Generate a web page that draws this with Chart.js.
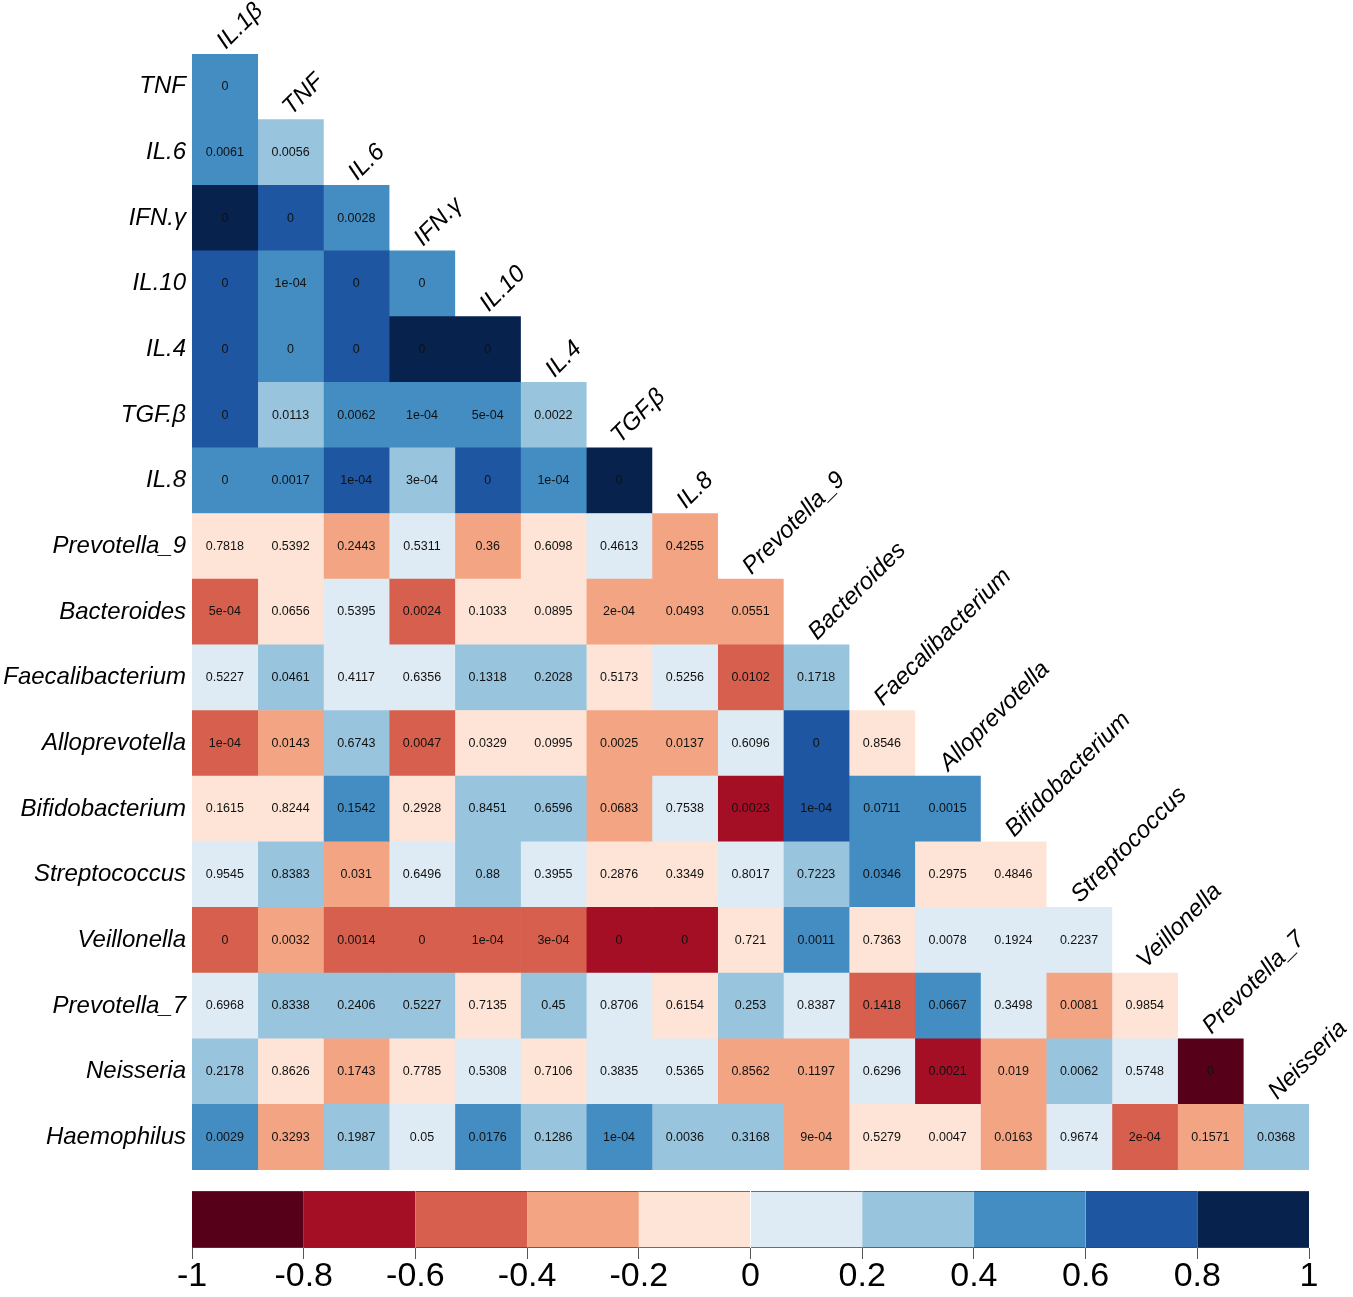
<!DOCTYPE html>
<html>
<head>
<meta charset="utf-8">
<script src="https://cdn.jsdelivr.net/npm/chart.js@4.4.1/dist/chart.umd.min.js"></script>
<style>
  html, body { margin: 0; padding: 0; background: #fff; }
  #wrap { position: relative; width: 1353px; height: 1297px; }
  #heat { position: absolute; left: 0; top: 0; }
  #bar { position: absolute; left: 0; top: 1180px; }
</style>
</head>
<body>
<div id="wrap">
  <canvas id="heat" width="1353" height="1180"></canvas>
  <canvas id="bar" width="1353" height="117"></canvas>
</div>
<script>
// row names (top to bottom) and column names (left to right)
const rowLabels = ["TNF", "IL.6", "IFN.γ", "IL.10", "IL.4", "TGF.β", "IL.8",
  "Prevotella_9", "Bacteroides", "Faecalibacterium", "Alloprevotella",
  "Bifidobacterium", "Streptococcus", "Veillonella", "Prevotella_7",
  "Neisseria", "Haemophilus"];
const colLabels = ["IL.1β", "TNF", "IL.6", "IFN.γ", "IL.10", "IL.4", "TGF.β", "IL.8",
  "Prevotella_9", "Bacteroides", "Faecalibacterium", "Alloprevotella",
  "Bifidobacterium", "Streptococcus", "Veillonella", "Prevotella_7", "Neisseria"];

// estimated correlation per cell (lower triangle, row by row)
const corrRows = [
  [0.5],
  [0.5, 0.3],
  [0.9, 0.7, 0.5],
  [0.7, 0.5, 0.7, 0.5],
  [0.7, 0.5, 0.7, 0.9, 0.9],
  [0.7, 0.3, 0.5, 0.5, 0.5, 0.3],
  [0.5, 0.5, 0.7, 0.3, 0.7, 0.5, 0.9],
  [-0.1, -0.1, -0.3, 0.1, -0.3, -0.1, 0.1, -0.3],
  [-0.5, -0.1, 0.1, -0.5, -0.1, -0.1, -0.3, -0.3, -0.3],
  [0.1, 0.3, 0.1, 0.1, 0.3, 0.3, -0.1, 0.1, -0.5, 0.3],
  [-0.5, -0.3, 0.3, -0.5, -0.1, -0.1, -0.3, -0.3, 0.1, 0.7, -0.1],
  [-0.1, -0.1, 0.5, -0.1, 0.3, 0.3, -0.3, 0.1, -0.7, 0.7, 0.5, 0.5],
  [0.1, 0.3, -0.3, 0.1, 0.3, 0.1, -0.1, -0.1, 0.1, 0.3, 0.5, -0.1, -0.1],
  [-0.5, -0.3, -0.5, -0.5, -0.5, -0.5, -0.7, -0.7, -0.1, 0.5, -0.1, 0.1, 0.1, 0.1],
  [0.1, 0.3, 0.3, 0.3, -0.1, 0.3, 0.1, -0.1, 0.3, 0.1, -0.5, 0.5, 0.1, -0.3, -0.1],
  [0.3, -0.1, -0.3, -0.1, 0.1, -0.1, 0.1, 0.1, -0.3, -0.3, 0.1, -0.7, -0.3, 0.3, 0.1, -0.9],
  [0.5, -0.3, 0.3, 0.1, 0.5, 0.3, 0.5, 0.3, 0.3, -0.3, -0.1, -0.1, -0.3, 0.1, -0.5, -0.3, 0.3]
];

// p-values printed in each cell
const pRows = [
  ["0"],
  ["0.0061", "0.0056"],
  ["0", "0", "0.0028"],
  ["0", "1e-04", "0", "0"],
  ["0", "0", "0", "0", "0"],
  ["0", "0.0113", "0.0062", "1e-04", "5e-04", "0.0022"],
  ["0", "0.0017", "1e-04", "3e-04", "0", "1e-04", "0"],
  ["0.7818", "0.5392", "0.2443", "0.5311", "0.36", "0.6098", "0.4613", "0.4255"],
  ["5e-04", "0.0656", "0.5395", "0.0024", "0.1033", "0.0895", "2e-04", "0.0493", "0.0551"],
  ["0.5227", "0.0461", "0.4117", "0.6356", "0.1318", "0.2028", "0.5173", "0.5256", "0.0102", "0.1718"],
  ["1e-04", "0.0143", "0.6743", "0.0047", "0.0329", "0.0995", "0.0025", "0.0137", "0.6096", "0", "0.8546"],
  ["0.1615", "0.8244", "0.1542", "0.2928", "0.8451", "0.6596", "0.0683", "0.7538", "0.0023", "1e-04", "0.0711", "0.0015"],
  ["0.9545", "0.8383", "0.031", "0.6496", "0.88", "0.3955", "0.2876", "0.3349", "0.8017", "0.7223", "0.0346", "0.2975", "0.4846"],
  ["0", "0.0032", "0.0014", "0", "1e-04", "3e-04", "0", "0", "0.721", "0.0011", "0.7363", "0.0078", "0.1924", "0.2237"],
  ["0.6968", "0.8338", "0.2406", "0.5227", "0.7135", "0.45", "0.8706", "0.6154", "0.253", "0.8387", "0.1418", "0.0667", "0.3498", "0.0081", "0.9854"],
  ["0.2178", "0.8626", "0.1743", "0.7785", "0.5308", "0.7106", "0.3835", "0.5365", "0.8562", "0.1197", "0.6296", "0.0021", "0.019", "0.0062", "0.5748", "0"],
  ["0.0029", "0.3293", "0.1987", "0.05", "0.0176", "0.1286", "1e-04", "0.0036", "0.3168", "9e-04", "0.5279", "0.0047", "0.0163", "0.9674", "2e-04", "0.1571", "0.0368"]
];

// colour key: 10 bins from -1 to 1
const binEdges = [-1, -0.8, -0.6, -0.4, -0.2, 0, 0.2, 0.4, 0.6, 0.8, 1];
const binColors = ["#570019", "#A50F26", "#D6604D", "#F3A583", "#FDE4D6",
  "#DEEBF4", "#98C4DE", "#448DC2", "#1E56A2", "#08224E"];

const FONT = "'Liberation Sans', Arial, sans-serif";

function colorFor(r) {
  let i = Math.floor((r + 1) / 0.2);
  if (i > 9) i = 9;
  if (i < 0) i = 0;
  return binColors[i];
}

// one dataset per column, floating bars [c, c+1] on each row
const heatDatasets = colLabels.map((name, c) => ({
  label: name,
  data: rowLabels.map((_, r) => (r >= c ? [c, c + 1] : null)),
  backgroundColor: rowLabels.map((_, r) => (r >= c ? colorFor(corrRows[r][c]) : "transparent")),
  borderWidth: 0,
  grouped: false,
  barPercentage: 1,
  categoryPercentage: 1
}));

const cellText = {
  id: "cellText",
  afterDatasetsDraw(chart) {
    const ctx = chart.ctx;
    ctx.save();
    ctx.font = "12.5px " + FONT;
    ctx.fillStyle = "#111";
    ctx.textAlign = "center";
    ctx.textBaseline = "middle";
    chart.data.datasets.forEach((ds, c) => {
      const meta = chart.getDatasetMeta(c);
      meta.data.forEach((bar, r) => {
        if (r < c) return;
        const p = bar.getCenterPoint();
        ctx.fillText(pRows[r][c], p.x, p.y);
      });
    });
    ctx.restore();
  }
};

const colText = {
  id: "colText",
  afterDraw(chart) {
    const ctx = chart.ctx;
    const xs = chart.scales.x;
    const ys = chart.scales.y;
    const band = ys.getPixelForValue(1) - ys.getPixelForValue(0);
    ctx.save();
    ctx.font = "italic 24px " + FONT;
    ctx.fillStyle = "#000";
    ctx.textAlign = "left";
    ctx.textBaseline = "alphabetic";
    colLabels.forEach((name, c) => {
      const x = xs.getPixelForValue(c + 0.5);
      const top = ys.getPixelForValue(c) - band / 2;
      ctx.save();
      ctx.translate(x + 1, top - 4);
      ctx.rotate(-Math.PI / 4);
      ctx.fillText(name, 0, 0);
      ctx.restore();
    });
    ctx.restore();
  }
};

new Chart(document.getElementById("heat"), {
  type: "bar",
  data: { labels: rowLabels, datasets: heatDatasets },
  options: {
    indexAxis: "y",
    responsive: false,
    animation: false,
    layout: { padding: { top: 54, right: 44, bottom: 10, left: 0 } },
    plugins: { legend: { display: false }, tooltip: { enabled: false } },
    scales: {
      x: { type: "linear", min: 0, max: colLabels.length, display: false },
      y: {
        type: "category",
        grid: { display: false, drawTicks: false },
        border: { display: false },
        ticks: {
          autoSkip: false,
          padding: 6,
          color: "#000",
          font: { family: FONT, size: 24, style: "italic" }
        },
        afterFit: (axis) => {
          axis.width = 192;
          axis.paddingTop = 0;
          axis.paddingBottom = 0;
        }
      }
    }
  },
  plugins: [cellText, colText]
});

// colour key
const keyDatasets = binColors.map((col, i) => ({
  data: [[binEdges[i], binEdges[i + 1]]],
  backgroundColor: col,
  borderColor: "#444",
  borderWidth: { top: 1, bottom: 1, left: 0, right: 0 },
  borderSkipped: false,
  grouped: false,
  barPercentage: 1,
  categoryPercentage: 1
}));

new Chart(document.getElementById("bar"), {
  type: "bar",
  data: { labels: [""], datasets: keyDatasets },
  options: {
    indexAxis: "y",
    responsive: false,
    animation: false,
    layout: { padding: { top: 11, right: 44, bottom: 0, left: 192 } },
    plugins: { legend: { display: false }, tooltip: { enabled: false } },
    scales: {
      y: { display: false },
      x: {
        type: "linear",
        min: -1,
        max: 1,
        grid: { display: true, drawOnChartArea: false, drawTicks: true, tickLength: 11, color: "#555" },
        border: { display: false },
        ticks: {
          stepSize: 0.2,
          padding: -3,
          color: "#000",
          maxRotation: 0,
          font: { family: FONT, size: 34 },
          callback: (v) => String(parseFloat(Number(v).toFixed(1)))
        },
        afterFit: (axis) => { axis.height = 49; }
      }
    }
  }
});
</script>
</body>
</html>
